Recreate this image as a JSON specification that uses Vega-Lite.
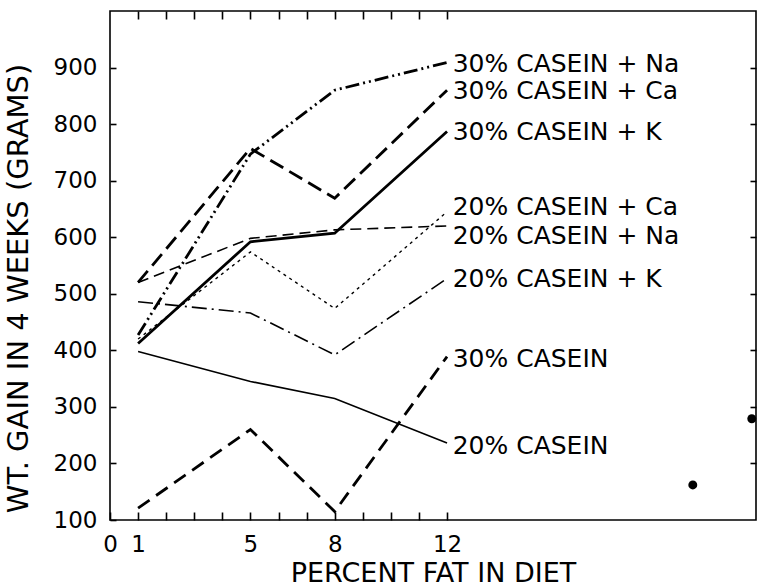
{
  "$schema": "https://vega.github.io/schema/vega-lite/v6.json",
  "width": 646,
  "height": 509,
  "autosize": {"type": "none"},
  "padding": {"left": 110, "top": 11, "right": 2, "bottom": 67},
  "background": "white",
  "config": {"view": {"stroke": "black", "strokeWidth": 1.6}},
  "datasets": {
    "gain": [
      {"diet": "30% CASEIN + Na", "fat": 1, "gain": 427},
      {"diet": "30% CASEIN + Na", "fat": 5, "gain": 747},
      {"diet": "30% CASEIN + Na", "fat": 8, "gain": 860},
      {"diet": "30% CASEIN + Na", "fat": 12, "gain": 909},
      {"diet": "30% CASEIN + Ca", "fat": 1, "gain": 520},
      {"diet": "30% CASEIN + Ca", "fat": 5, "gain": 757},
      {"diet": "30% CASEIN + Ca", "fat": 8, "gain": 669},
      {"diet": "30% CASEIN + Ca", "fat": 12, "gain": 860},
      {"diet": "30% CASEIN + K", "fat": 1, "gain": 412},
      {"diet": "30% CASEIN + K", "fat": 5, "gain": 592},
      {"diet": "30% CASEIN + K", "fat": 8, "gain": 607},
      {"diet": "30% CASEIN + K", "fat": 12, "gain": 787},
      {"diet": "20% CASEIN + Ca", "fat": 1, "gain": 420},
      {"diet": "20% CASEIN + Ca", "fat": 5, "gain": 574},
      {"diet": "20% CASEIN + Ca", "fat": 8, "gain": 474},
      {"diet": "20% CASEIN + Ca", "fat": 12, "gain": 645},
      {"diet": "20% CASEIN + Na", "fat": 1, "gain": 520},
      {"diet": "20% CASEIN + Na", "fat": 5, "gain": 598},
      {"diet": "20% CASEIN + Na", "fat": 8, "gain": 613},
      {"diet": "20% CASEIN + Na", "fat": 12, "gain": 620},
      {"diet": "20% CASEIN + K", "fat": 1, "gain": 486},
      {"diet": "20% CASEIN + K", "fat": 5, "gain": 466},
      {"diet": "20% CASEIN + K", "fat": 8, "gain": 392},
      {"diet": "20% CASEIN + K", "fat": 12, "gain": 527},
      {"diet": "30% CASEIN", "fat": 1, "gain": 121},
      {"diet": "30% CASEIN", "fat": 5, "gain": 260},
      {"diet": "30% CASEIN", "fat": 8, "gain": 115},
      {"diet": "30% CASEIN", "fat": 12, "gain": 389},
      {"diet": "20% CASEIN", "fat": 1, "gain": 398},
      {"diet": "20% CASEIN", "fat": 5, "gain": 345},
      {"diet": "20% CASEIN", "fat": 8, "gain": 315},
      {"diet": "20% CASEIN", "fat": 12, "gain": 236}
    ],
    "labels": [
      {"diet": "30% CASEIN + Na", "fat": 12.2, "gain": 907},
      {"diet": "30% CASEIN + Ca", "fat": 12.2, "gain": 859},
      {"diet": "30% CASEIN + K", "fat": 12.2, "gain": 786},
      {"diet": "20% CASEIN + Ca", "fat": 12.2, "gain": 653},
      {"diet": "20% CASEIN + Na", "fat": 12.2, "gain": 603},
      {"diet": "20% CASEIN + K", "fat": 12.2, "gain": 526},
      {"diet": "30% CASEIN", "fat": 12.2, "gain": 385},
      {"diet": "20% CASEIN", "fat": 12.2, "gain": 231}
    ],
    "stray": [
      {"fat": 20.75, "gain": 162},
      {"fat": 22.85, "gain": 279}
    ]
  },
  "layer": [
    {
      "data": {"name": "stray"},
      "mark": {"type": "point", "filled": true, "color": "black", "opacity": 1, "size": 80},
      "encoding": {
        "x": {
          "field": "fat",
          "type": "quantitative",
          "scale": {"domain": [0, 23], "nice": false, "zero": false},
          "axis": {
            "orient": "bottom",
            "offset": -8,
            "grid": false,
            "domain": false,
            "values": [0, 1, 2, 3, 4, 5, 6, 7, 8, 9, 10, 11, 12],
            "labelExpr": "indexof([0, 1, 5, 8, 12], datum.value) >= 0 ? datum.label : ''",
            "labelFlush": false,
            "labelOverlap": false,
            "labelBound": false,
            "tickSize": 8,
            "tickWidth": 1.6,
            "tickColor": "black",
            "labelPadding": 13,
            "labelFont": "DejaVu Sans",
            "labelFontSize": 23,
            "labelColor": "black",
            "title": "PERCENT FAT IN DIET",
            "titleFont": "DejaVu Sans",
            "titleFontSize": 27,
            "titleFontWeight": "normal",
            "titleColor": "black",
            "titleX": 323,
            "titleY": 69,
            "titleAlign": "center",
            "titleBaseline": "alphabetic"
          }
        },
        "y": {
          "field": "gain",
          "type": "quantitative",
          "scale": {"domain": [100, 1000], "nice": false, "zero": false},
          "axis": {
            "orient": "left",
            "offset": -6,
            "grid": false,
            "domain": false,
            "values": [100, 200, 300, 400, 500, 600, 700, 800, 900],
            "tickSize": 6,
            "tickWidth": 1.6,
            "tickColor": "black",
            "labelPadding": 13,
            "labelOverlap": false,
            "labelBound": false,
            "labelFont": "DejaVu Sans",
            "labelFontSize": 23,
            "labelColor": "black",
            "title": "WT. GAIN IN 4 WEEKS (GRAMS)",
            "titleFont": "DejaVu Sans",
            "titleFontSize": 29,
            "titleFontWeight": "normal",
            "titleColor": "black",
            "titleX": -98,
            "titleY": 277,
            "titleAlign": "center",
            "titleBaseline": "middle"
          }
        }
      }
    },
    {
      "data": {"name": "labels"},
      "mark": {"type": "text", "align": "left", "baseline": "middle", "font": "DejaVu Sans", "fontSize": 25, "color": "black"},
      "encoding": {
        "x": {
          "field": "fat",
          "type": "quantitative",
          "scale": {"domain": [0, 23], "nice": false, "zero": false},
          "axis": {
            "orient": "top",
            "offset": -8,
            "grid": false,
            "domain": false,
            "values": [1, 2, 3, 4, 5, 6, 7, 8, 9, 10, 11, 12],
            "labels": false,
            "tickSize": 8,
            "tickWidth": 1.6,
            "tickColor": "black",
            "title": null
          }
        },
        "y": {
          "field": "gain",
          "type": "quantitative",
          "scale": {"domain": [100, 1000], "nice": false, "zero": false},
          "axis": {
            "orient": "right",
            "offset": -6,
            "grid": false,
            "domain": false,
            "values": [200, 300, 400, 500, 600, 700, 800, 900],
            "labels": false,
            "tickSize": 6,
            "tickWidth": 1.6,
            "tickColor": "black",
            "title": null
          }
        },
        "text": {"field": "diet"}
      }
    },
    {
      "data": {"name": "gain"},
      "transform": [{"filter": "datum.diet === '30% CASEIN + Na'"}],
      "mark": {"type": "line", "color": "black", "strokeWidth": 2.8, "strokeDash": [14, 4, 2, 4, 2, 4]},
      "encoding": {
        "x": {"field": "fat", "type": "quantitative", "scale": {"domain": [0, 23], "nice": false, "zero": false}, "axis": {"orient": "bottom", "grid": false, "domain": false, "ticks": false, "labels": false, "title": null}},
        "y": {"field": "gain", "type": "quantitative", "scale": {"domain": [100, 1000], "nice": false, "zero": false}, "axis": {"orient": "left", "grid": false, "domain": false, "ticks": false, "labels": false, "title": null}}
      }
    },
    {
      "data": {"name": "gain"},
      "transform": [{"filter": "datum.diet === '30% CASEIN + Ca'"}],
      "mark": {"type": "line", "color": "black", "strokeWidth": 2.8, "strokeDash": [15, 7]},
      "encoding": {
        "x": {"field": "fat", "type": "quantitative", "scale": {"domain": [0, 23], "nice": false, "zero": false}, "axis": {"orient": "bottom", "grid": false, "domain": false, "ticks": false, "labels": false, "title": null}},
        "y": {"field": "gain", "type": "quantitative", "scale": {"domain": [100, 1000], "nice": false, "zero": false}, "axis": {"orient": "left", "grid": false, "domain": false, "ticks": false, "labels": false, "title": null}}
      }
    },
    {
      "data": {"name": "gain"},
      "transform": [{"filter": "datum.diet === '30% CASEIN + K'"}],
      "mark": {"type": "line", "color": "black", "strokeWidth": 2.8},
      "encoding": {
        "x": {"field": "fat", "type": "quantitative", "scale": {"domain": [0, 23], "nice": false, "zero": false}, "axis": {"orient": "bottom", "grid": false, "domain": false, "ticks": false, "labels": false, "title": null}},
        "y": {"field": "gain", "type": "quantitative", "scale": {"domain": [100, 1000], "nice": false, "zero": false}, "axis": {"orient": "left", "grid": false, "domain": false, "ticks": false, "labels": false, "title": null}}
      }
    },
    {
      "data": {"name": "gain"},
      "transform": [{"filter": "datum.diet === '20% CASEIN + Ca'"}],
      "mark": {"type": "line", "color": "black", "strokeWidth": 1.4, "strokeDash": [3, 4]},
      "encoding": {
        "x": {"field": "fat", "type": "quantitative", "scale": {"domain": [0, 23], "nice": false, "zero": false}, "axis": {"orient": "bottom", "grid": false, "domain": false, "ticks": false, "labels": false, "title": null}},
        "y": {"field": "gain", "type": "quantitative", "scale": {"domain": [100, 1000], "nice": false, "zero": false}, "axis": {"orient": "left", "grid": false, "domain": false, "ticks": false, "labels": false, "title": null}}
      }
    },
    {
      "data": {"name": "gain"},
      "transform": [{"filter": "datum.diet === '20% CASEIN + Na'"}],
      "mark": {"type": "line", "color": "black", "strokeWidth": 1.6, "strokeDash": [11, 6]},
      "encoding": {
        "x": {"field": "fat", "type": "quantitative", "scale": {"domain": [0, 23], "nice": false, "zero": false}, "axis": {"orient": "bottom", "grid": false, "domain": false, "ticks": false, "labels": false, "title": null}},
        "y": {"field": "gain", "type": "quantitative", "scale": {"domain": [100, 1000], "nice": false, "zero": false}, "axis": {"orient": "left", "grid": false, "domain": false, "ticks": false, "labels": false, "title": null}}
      }
    },
    {
      "data": {"name": "gain"},
      "transform": [{"filter": "datum.diet === '20% CASEIN + K'"}],
      "mark": {"type": "line", "color": "black", "strokeWidth": 1.6, "strokeDash": [15, 5, 2, 5]},
      "encoding": {
        "x": {"field": "fat", "type": "quantitative", "scale": {"domain": [0, 23], "nice": false, "zero": false}, "axis": {"orient": "bottom", "grid": false, "domain": false, "ticks": false, "labels": false, "title": null}},
        "y": {"field": "gain", "type": "quantitative", "scale": {"domain": [100, 1000], "nice": false, "zero": false}, "axis": {"orient": "left", "grid": false, "domain": false, "ticks": false, "labels": false, "title": null}}
      }
    },
    {
      "data": {"name": "gain"},
      "transform": [{"filter": "datum.diet === '30% CASEIN'"}],
      "mark": {"type": "line", "color": "black", "strokeWidth": 2.8, "strokeDash": [14, 8]},
      "encoding": {
        "x": {"field": "fat", "type": "quantitative", "scale": {"domain": [0, 23], "nice": false, "zero": false}, "axis": {"orient": "bottom", "grid": false, "domain": false, "ticks": false, "labels": false, "title": null}},
        "y": {"field": "gain", "type": "quantitative", "scale": {"domain": [100, 1000], "nice": false, "zero": false}, "axis": {"orient": "left", "grid": false, "domain": false, "ticks": false, "labels": false, "title": null}}
      }
    },
    {
      "data": {"name": "gain"},
      "transform": [{"filter": "datum.diet === '20% CASEIN'"}],
      "mark": {"type": "line", "color": "black", "strokeWidth": 1.6},
      "encoding": {
        "x": {"field": "fat", "type": "quantitative", "scale": {"domain": [0, 23], "nice": false, "zero": false}, "axis": {"orient": "bottom", "grid": false, "domain": false, "ticks": false, "labels": false, "title": null}},
        "y": {"field": "gain", "type": "quantitative", "scale": {"domain": [100, 1000], "nice": false, "zero": false}, "axis": {"orient": "left", "grid": false, "domain": false, "ticks": false, "labels": false, "title": null}}
      }
    }
  ],
  "resolve": {"axis": {"x": "independent", "y": "independent"}}
}
